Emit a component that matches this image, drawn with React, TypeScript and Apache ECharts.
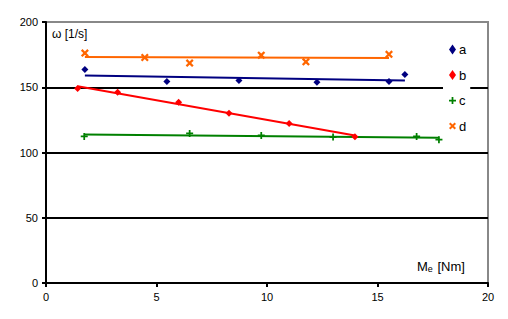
import React, { useEffect, useRef } from "react";
import * as echarts from "echarts";

const seriesNames = ["a", "b", "c", "d"];
const aX = [1.76, 5.47, 8.73, 12.26, 15.52, 16.24];
const aY = [163.6, 154.4, 155.2, 153.8, 154.4, 159.8];
const bX = [1.43, 3.24, 6.0, 8.28, 11.0, 13.98];
const bY = [149.0, 146.2, 138.5, 130.0, 122.3, 112.1];
const cX = [1.73, 6.5, 9.74, 12.99, 16.77, 17.78];
const cY = [112.3, 114.6, 113.1, 111.8, 112.3, 109.8];
const dX = [1.76, 4.47, 6.5, 9.74, 11.76, 15.52];
const dY = [176.2, 172.8, 168.5, 174.6, 169.5, 175.2];
const colors = ["#000080", "#ff0000", "#008000", "#ff6600"];
const yTitle = "ω [1/s]";
const xTitle = "M{sub|e} [Nm]";

const plusPath = "path://M3,0H5V3H8V5H5V8H3V5H0V3H3Z";
const crossPath = "path://M0,1.6L1.6,0L4,2.4L6.4,0L8,1.6L5.6,4L8,6.4L6.4,8L4,5.6L1.6,8L0,6.4L2.4,4Z";
const symbols = ["diamond", "diamond", plusPath, crossPath];
const symbolSizes = [7, 7, 7, 8];

function fit(xs: number[], ys: number[]) {
  const n = xs.length;
  const mx = xs.reduce((s, v) => s + v, 0) / n;
  const my = ys.reduce((s, v) => s + v, 0) / n;
  let sxy = 0, sxx = 0;
  for (let i = 0; i < n; i++) {
    sxy += (xs[i] - mx) * (ys[i] - my);
    sxx += (xs[i] - mx) ** 2;
  }
  const k = sxy / sxx;
  const x0 = Math.min(...xs), x1 = Math.max(...xs);
  return [[x0, my + k * (x0 - mx)], [x1, my + k * (x1 - mx)]];
}

export default function App() {
  const ref = useRef<HTMLDivElement>(null);
  useEffect(() => {
    const chart = echarts.init(ref.current!, null, { renderer: "svg" });
    const all = [[aX, aY], [bX, bY], [cX, cY], [dX, dY]];
    const series: any[] = [];
    all.forEach(([xs, ys], i) => {
      series.push({
        type: "line",
        data: fit(xs, ys),
        showSymbol: false,
        symbol: "none",
        lineStyle: { color: colors[i], width: 2 },
        silent: true,
        z: 2,
      });
    });
    all.forEach(([xs, ys], i) => {
      series.push({
        name: seriesNames[i],
        type: "scatter",
        data: xs.map((x, j) => [x, ys[j]]),
        symbol: symbols[i],
        symbolSize: symbolSizes[i],
        itemStyle: { color: colors[i], opacity: 1 },
        z: 3,
      });
    });
    chart.setOption({
      animation: false,
      backgroundColor: "#fff",
      grid: {
        left: 46, right: 20, top: 22, bottom: 36,
        show: true, borderColor: "#888", borderWidth: 2, backgroundColor: "transparent",
      },
      legend: {
        data: seriesNames,
        orient: "vertical",
        left: 443,
        top: 40,
        width: 32,
        padding: [3, 4, 3, 6],
        itemWidth: 7,
        itemHeight: 10,
        itemGap: 12.5,
        backgroundColor: "#fff",
        textStyle: { fontFamily: "Liberation Sans", fontSize: 13, color: "#000", padding: [0, 0, 0, -2] },
        z: 10,
      },
      xAxis: {
        type: "value", min: 0, max: 20, interval: 5,
        axisLine: { show: true, lineStyle: { color: "#000", width: 2 } },
        axisTick: { show: true, length: 4, lineStyle: { color: "#000", width: 2 } },
        axisLabel: { color: "#000", fontFamily: "Liberation Sans", fontSize: 11, margin: 8 },
        splitLine: { show: false },
      },
      yAxis: {
        type: "value", min: 0, max: 200, interval: 50,
        axisLine: { show: true, lineStyle: { color: "#000", width: 2 } },
        axisTick: { show: true, length: 4, lineStyle: { color: "#000", width: 2 } },
        axisLabel: { color: "#000", fontFamily: "Liberation Sans", fontSize: 11, margin: 8 },
        splitLine: { show: true, showMaxLine: false, lineStyle: { color: "#000", width: 2 } },
      },
      graphic: [
        {
          type: "text", left: 52, top: 28, z: 20,
          style: { text: yTitle, fontFamily: "Liberation Sans", fontSize: 12, fill: "#000" },
        },
        {
          type: "text", left: 417, top: 260, z: 20,
          style: {
            text: xTitle, fontFamily: "Liberation Sans", fontSize: 13, fill: "#000",
            rich: { sub: { fontSize: 9, verticalAlign: "bottom", padding: [5, 1, 0, 0], fontFamily: "Liberation Sans", fill: "#000" } },
          },
        },
      ],
      series,
    });
    return () => chart.dispose();
  }, []);
  return <div ref={ref} style={{ width: 508, height: 319, position: "absolute", left: 0, top: 0 }} />;
}
